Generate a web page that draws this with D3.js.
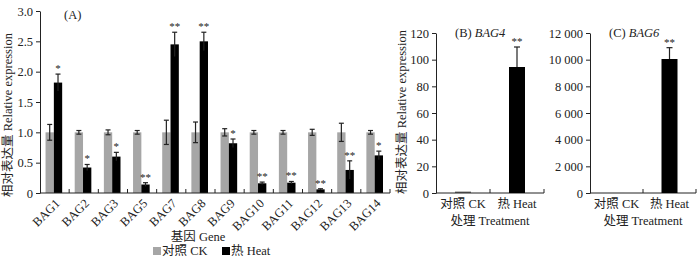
<!DOCTYPE html>
<html>
<head>
<meta charset="utf-8">
<script src="https://cdn.jsdelivr.net/npm/d3@7"></script>
<style>
  body { margin: 0; background: #fff; }
  svg text { font-family: "Liberation Serif", "Noto Sans CJK SC", serif; fill: #222; }
  .axis path, .axis line { stroke: #222; stroke-width: 1; }
</style>
</head>
<body>
<div id="chart-area"></div>
<script>
// panel A data
let genes = ["BAG1", "BAG2", "BAG3", "BAG5", "BAG7", "BAG8", "BAG9", "BAG10", "BAG11", "BAG12", "BAG13", "BAG14"];
let ckValues = [1, 1, 1, 1, 1, 1, 1, 1, 1, 1, 1, 1];
let ckErrors = [0.13, 0.03, 0.04, 0.03, 0.2, 0.17, 0.06, 0.03, 0.03, 0.05, 0.15, 0.03];
let heatValues = [1.82, 0.42, 0.6, 0.14, 2.45, 2.5, 0.82, 0.16, 0.17, 0.06, 0.38, 0.62];
let heatErrors = [0.14, 0.05, 0.07, 0.03, 0.2, 0.15, 0.07, 0.02, 0.02, 0.01, 0.15, 0.07];
let heatSig = ["*", "*", "*", "**", "**", "**", "*", "**", "**", "**", "**", "*"];
let ticksA = [0, 0.5, 1.0, 1.5, 2.0, 2.5, 3.0];

// panels B and C
let treatments = ["对照 CK", "热 Heat"];
let bag4Values = [1, 94.5];
let bag4Errors = [0.3, 15];
let bag6Values = [1, 10050];
let bag6Errors = [2, 850];
let ticksB = [0, 20, 40, 60, 80, 100, 120];
let ticksC = [0, 2000, 4000, 6000, 8000, 10000, 12000];

let colors = {CK: "#a6a6a6", Heat: "#000"};
let ylabel = "相对表达量 Relative expression";
let fs = "12.5px";

let svg = d3.select("#chart-area").append("svg")
  .attr("width", 700)
  .attr("height", 260);

let y0 = 193, y1 = 11;

// ---------- panel A ----------
let xA = d3.scaleBand().domain(genes).range([40, 390]).padding(0);
let inner = d3.scaleBand().domain(["CK", "Heat"])
  .range([xA.bandwidth() * 0.19, xA.bandwidth() * 0.76]);
let yA = d3.scaleLinear().domain([0, 3]).range([y0, y1]);

let gA = svg.append("g");

gA.append("g").attr("class", "axis")
  .attr("transform", "translate(40,0)")
  .call(d3.axisLeft(yA).tickValues(ticksA).tickSize(4).tickSizeOuter(0)
    .tickFormat(d => d === 0 ? "0" : d3.format(".1f")(d)))
  .call(g => g.selectAll("text").style("font-size", fs));

let rowsA = genes.map((g, i) => ({gene: g, ck: ckValues[i], ckE: ckErrors[i], heat: heatValues[i], heatE: heatErrors[i], sig: heatSig[i]}));

let grp = gA.selectAll(".grp").data(rowsA).enter().append("g")
  .attr("transform", d => "translate(" + xA(d.gene) + ",0)");

function bars(sel, key, val, err, y, capW) {
  sel.append("rect")
    .attr("x", inner(key))
    .attr("width", inner.bandwidth())
    .attr("y", d => y(val(d)))
    .attr("height", d => y0 - y(val(d)))
    .attr("fill", colors[key]);
  let cx = inner(key) + inner.bandwidth() / 2;
  sel.append("line")
    .attr("x1", cx).attr("x2", cx)
    .attr("y1", d => y(val(d) - err(d))).attr("y2", d => y(val(d) + err(d)))
    .attr("stroke", "#222").attr("stroke-width", 1.2);
  sel.append("line")
    .attr("x1", cx - capW / 2).attr("x2", cx + capW / 2)
    .attr("y1", d => y(val(d) + err(d))).attr("y2", d => y(val(d) + err(d)))
    .attr("stroke", "#222").attr("stroke-width", 1.2);
  if (key === "CK") {
    sel.append("line")
      .attr("x1", cx - capW / 2).attr("x2", cx + capW / 2)
      .attr("y1", d => y(val(d) - err(d))).attr("y2", d => y(val(d) - err(d)))
      .attr("stroke", "#222").attr("stroke-width", 1.2);
  }
}

bars(grp, "CK", d => d.ck, d => d.ckE, yA, 5);
bars(grp, "Heat", d => d.heat, d => d.heatE, yA, 5);

grp.append("text")
  .attr("x", inner("Heat") + inner.bandwidth() / 2)
  .attr("y", d => yA(d.heat + d.heatE) - 2)
  .attr("text-anchor", "middle")
  .style("font-size", "11px")
  .text(d => d.sig);

// x axis A with inward ticks at band edges
gA.append("line").attr("x1", 40).attr("x2", 390).attr("y1", y0).attr("y2", y0)
  .attr("stroke", "#222");
gA.selectAll(".xt").data(genes).enter().append("line")
  .attr("x1", d => xA(d) + xA.bandwidth()).attr("x2", d => xA(d) + xA.bandwidth())
  .attr("y1", y0).attr("y2", y0 - 4).attr("stroke", "#222");
gA.selectAll(".xl").data(genes).enter().append("text")
  .attr("transform", d => "translate(" + (xA(d) + xA.bandwidth() / 2 + 3) + "," + (y0 + 8) + ") rotate(-45)")
  .attr("text-anchor", "end")
  .attr("dy", "0.35em")
  .style("font-size", fs)
  .text(d => d);

gA.append("text").attr("x", 64).attr("y", 19).style("font-size", fs).text("(A)");
gA.append("text")
  .attr("transform", "translate(12,115) rotate(-90)")
  .attr("text-anchor", "middle")
  .style("font-size", fs)
  .text(ylabel);
gA.append("text").attr("x", 198).attr("y", 241).attr("text-anchor", "middle")
  .style("font-size", fs).text("基因 Gene");

// legend
let legend = gA.selectAll(".leg").data([["CK", "对照 CK", 153], ["Heat", "热 Heat", 222]])
  .enter().append("g").attr("transform", d => "translate(" + d[2] + ",247)");
legend.append("rect").attr("width", 8).attr("height", 8).attr("fill", d => colors[d[0]]);
legend.append("text").attr("x", 9).attr("y", 8).style("font-size", fs).text(d => d[1]);

// ---------- panels B, C ----------
let fmtSpace = d3.formatLocale({decimal: ".", thousands: " ", grouping: [3], currency: ["", ""]}).format(",");

function smallPanel(left, right, vals, errs, ticks, title, tag, fmt, withLabel) {
  let g = svg.append("g");
  let x = d3.scaleBand().domain(treatments).range([left, right]);
  let y = d3.scaleLinear().domain([0, d3.max(ticks)]).range([y0, 33]);
  g.append("g").attr("class", "axis")
    .attr("transform", "translate(" + left + ",0)")
    .call(d3.axisLeft(y).tickValues(ticks).tickSize(4).tickSizeOuter(0).tickFormat(fmt))
    .call(s => s.selectAll("text").style("font-size", fs));
  g.append("line").attr("x1", left).attr("x2", right).attr("y1", y0).attr("y2", y0).attr("stroke", "#222");
  g.selectAll(".xt").data(treatments).enter().append("line")
    .attr("x1", d => x(d) + x.bandwidth()).attr("x2", d => x(d) + x.bandwidth())
    .attr("y1", y0).attr("y2", y0 - 4).attr("stroke", "#222");
  let bw = 16;
  let rows = treatments.map((t, i) => ({t: t, v: vals[i], e: errs[i], key: i === 0 ? "CK" : "Heat"}));
  let b = g.selectAll(".b").data(rows).enter().append("g");
  b.append("rect")
    .attr("x", d => x(d.t) + x.bandwidth() / 2 - bw / 2)
    .attr("width", bw)
    .attr("y", d => y(d.v))
    .attr("height", d => y0 - y(d.v))
    .attr("fill", d => d.key === "Heat" ? colors.Heat : "#444");
  let heat = rows.filter(d => d.key === "Heat");
  let hb = g.selectAll(".e").data(heat).enter().append("g");
  hb.append("line")
    .attr("x1", d => x(d.t) + x.bandwidth() / 2).attr("x2", d => x(d.t) + x.bandwidth() / 2)
    .attr("y1", d => y(d.v)).attr("y2", d => y(d.v + d.e)).attr("stroke", "#222").attr("stroke-width", 1.2);
  hb.append("line")
    .attr("x1", d => x(d.t) + x.bandwidth() / 2 - 3).attr("x2", d => x(d.t) + x.bandwidth() / 2 + 3)
    .attr("y1", d => y(d.v + d.e)).attr("y2", d => y(d.v + d.e)).attr("stroke", "#222").attr("stroke-width", 1.2);
  hb.append("text")
    .attr("x", d => x(d.t) + x.bandwidth() / 2)
    .attr("y", d => y(d.v + d.e) - 2)
    .attr("text-anchor", "middle").style("font-size", "11px").text("**");
  g.selectAll(".xl").data(treatments).enter().append("text")
    .attr("x", d => x(d) + x.bandwidth() / 2).attr("y", 208)
    .attr("text-anchor", "middle").style("font-size", fs).text(d => d);
  g.append("text").attr("x", (left + right) / 2).attr("y", 225)
    .attr("text-anchor", "middle").style("font-size", fs).text("处理 Treatment");
  let t = g.append("text").attr("x", left + 19).attr("y", 37).style("font-size", fs);
  t.append("tspan").text(title + " ");
  t.append("tspan").style("font-style", "italic").text(tag);
  if (withLabel) {
    g.append("text")
      .attr("transform", "translate(" + (left - 30) + ",112) rotate(-90)")
      .attr("text-anchor", "middle").style("font-size", fs).text(ylabel);
  }
}

smallPanel(436, 544, bag4Values, bag4Errors, ticksB, "(B)", "BAG4", d => d, true);
smallPanel(590, 696, bag6Values, bag6Errors, ticksC, "(C)", "BAG6", d => fmtSpace(d), false);
</script>
</body>
</html>
